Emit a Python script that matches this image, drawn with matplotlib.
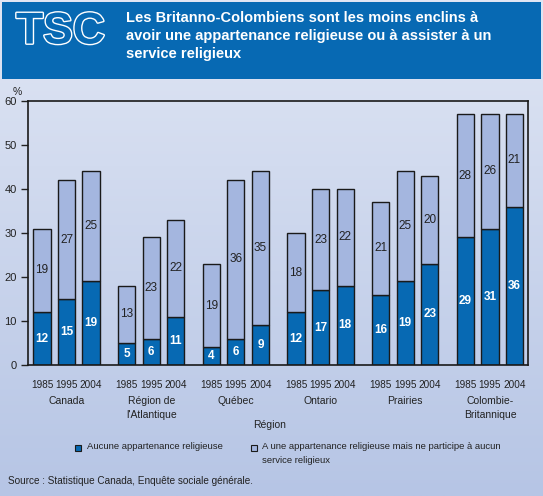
import matplotlib
matplotlib.use("Agg")
import matplotlib.pyplot as plt
import matplotlib.patheffects as pe
from matplotlib.patches import Rectangle
import numpy as np

plt.rcParams['font.family'] = ['Liberation Sans', 'DejaVu Sans']

regions = ["Canada", "Région de\nl'Atlantique", "Québec", "Ontario", "Prairies",
           "Colombie-\nBritannique"]
years = ["1985", "1995", "2004"]
no_affil = [[12, 15, 19], [5, 6, 11], [4, 6, 9], [12, 17, 18], [16, 19, 23], [29, 31, 36]]
affil_no_attend = [[19, 27, 25], [13, 23, 22], [19, 36, 35], [18, 23, 22], [21, 25, 20],
                   [28, 26, 21]]
legend_labels = ["Aucune appartenance religieuse",
                 "A une appartenance religieuse mais ne participe à aucun\nservice religieux"]

DARK = "#0769b3"
LIGHT = "#a4b6df"
HEADER = "#0769b3"
INK = "#222222"

W, H = 543, 496
fig = plt.figure(figsize=(W / 100, H / 100), dpi=100)

# background gradient
bg = fig.add_axes([0, 0, 1, 1], zorder=-10)
grad = np.linspace(0, 1, 256).reshape(-1, 1)
cmap = matplotlib.colors.LinearSegmentedColormap.from_list("bg", ["#e0e6f4", "#b6c5e5"])
bg.imshow(grad, aspect="auto", cmap=cmap, extent=[0, 1, 0, 1], origin="upper")
bg.set_xlim(0, 1)
bg.set_ylim(0, 1)
bg.axis("off")
bg.add_patch(Rectangle((2 / W, 1 - 79 / H), 539 / W, 77 / H, color=HEADER, lw=0))

# header
bg.text(16 / W, 1 - 32 / H, "TSC", fontsize=32, fontweight="bold",
        color=HEADER, va="center", ha="left",
        path_effects=[pe.withStroke(linewidth=2.0, foreground="white")])
bg.text(126 / W, 1 - 11 / H,
        "Les Britanno-Colombiens sont les moins enclins à\n"
        "avoir une appartenance religieuse ou à assister à un\n"
        "service religieux",
        fontsize=10.5, fontweight="bold", color="white", va="top", ha="left",
        linespacing=1.35)

ax = fig.add_axes([28 / W, 1 - 365 / H, 500 / W, 264 / H])
ax.set_facecolor("none")

gap = 3.45
width = 0.7
xs, lows, highs = [], [], []
for i in range(len(regions)):
    for j in range(len(years)):
        xs.append(i * gap + j)
        lows.append(no_affil[i][j])
        highs.append(affil_no_attend[i][j])
xs = np.array(xs)
lows = np.array(lows)
highs = np.array(highs)

ax.bar(xs, lows, width, color=DARK, edgecolor="#1a1a1a", linewidth=1.0)
ax.bar(xs, highs, width, bottom=lows, color=LIGHT, edgecolor="#1a1a1a", linewidth=1.0)
for x, lo, hi in zip(xs, lows, highs):
    ax.text(x, lo / 2, str(lo), ha="center", va="center", color="white",
            fontsize=8.5, fontweight="bold")
    ax.text(x, lo + hi / 2, str(hi), ha="center", va="center", color=INK,
            fontsize=8.5)

ax.set_xlim(-0.57, (len(regions) - 1) * gap + 2 + 0.55)
ax.set_ylim(0, 60)
ax.set_yticks(range(0, 61, 10))
ax.tick_params(axis="y", direction="out", length=5, width=1, labelsize=8, pad=3,
               colors=INK)
ax.set_xticks(xs)
ax.set_xticklabels(years * len(regions), fontsize=7.2, color=INK)
ax.tick_params(axis="x", length=0, pad=11)
for s in ax.spines.values():
    s.set_color("#1a1a1a")
    s.set_linewidth(1.2)

trans = ax.get_xaxis_transform()
for i, name in enumerate(regions):
    ax.text(i * gap + 1, -31 / 264, name, transform=trans, ha="center", va="top",
            fontsize=7.5, color=INK, linespacing=1.5)

fig.text(17 / W, 1 - 92 / H, "%", fontsize=7.5, color=INK, ha="center", va="center")
fig.text(270 / W, 1 - 425 / H, "Région", fontsize=7.5, color=INK, ha="center",
         va="center")

# legend
for (sx, color), (tx, label) in zip([(75, DARK), (251, LIGHT)],
                                    [(87, legend_labels[0]), (262, legend_labels[1])]):
    bg.add_patch(Rectangle((sx / W, 1 - 451 / H), 6 / W, 6 / H, facecolor=color,
                           edgecolor="#1a1a1a", lw=0.8))
    bg.text(tx / W, 1 - 442 / H, label, fontsize=6.8, color=INK, ha="left",
            va="top", linespacing=1.75)

fig.text(8 / W, 1 - 481 / H, "Source : Statistique Canada, Enquête sociale générale.",
         fontsize=7.2, color=INK, ha="left", va="center")

fig.savefig("out.png", dpi=100)
